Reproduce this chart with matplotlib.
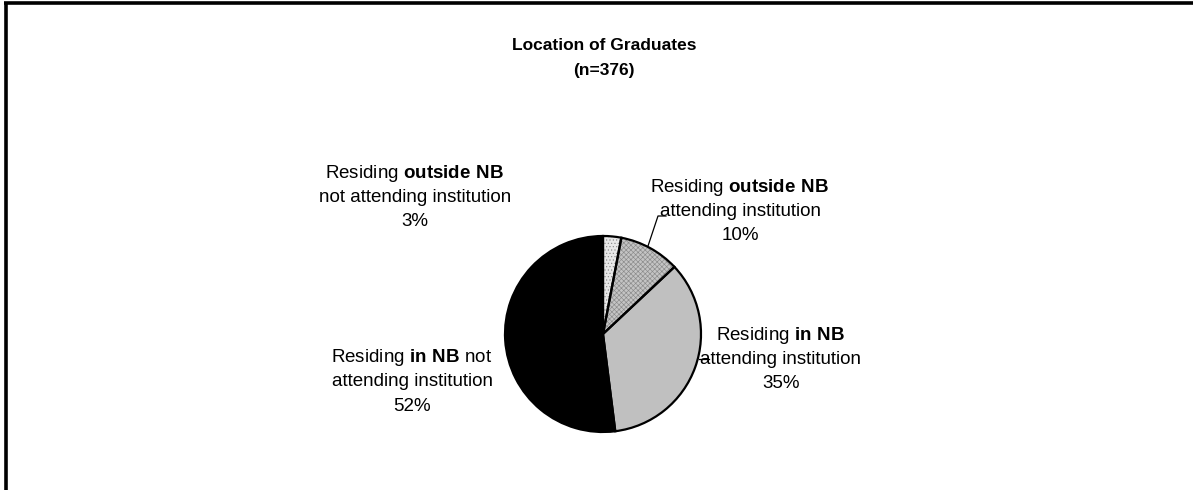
import matplotlib
matplotlib.use("Agg")
import matplotlib.pyplot as plt

plt.rcParams['font.family'] = ['Liberation Sans', 'DejaVu Sans']
plt.rcParams['mathtext.fontset'] = 'custom'
plt.rcParams['mathtext.rm'] = 'Liberation Sans'
plt.rcParams['mathtext.bf'] = 'Liberation Sans:bold'
plt.rcParams['hatch.linewidth'] = 0.45

# data (clockwise from 12 o'clock)
categories = ["outside NB, not attending", "outside NB, attending",
              "in NB, attending", "in NB, not attending"]
shares = [3, 10, 35, 52]
label_lines = [
    [r"Residing $\mathbf{outside\ NB}$", "not attending institution", "3%"],
    [r"Residing $\mathbf{outside\ NB}$", "attending institution", "10%"],
    [r"Residing $\mathbf{in\ NB}$", "attending institution", "35%"],
    [r"Residing $\mathbf{in\ NB}$ not", "attending institution", "52%"],
]
title_lines = ["Location of Graduates", "(n=376)"]

W, H = 1193, 490
fig = plt.figure(figsize=(W / 100, H / 100), dpi=100)
ax = fig.add_axes([0, 0, 1, 1])

def py(y):
    return H - y

cx, cy, r = 603, py(334), 98
fills = ['#e8e8e8', '#c4c4c4', '#c0c0c0', '#000000']
hatches = ['.....', 'xxxxxxx', None, None]

# fills with texture
w1, _ = ax.pie(shares, startangle=90, counterclock=False, center=(cx, cy),
               radius=r, colors=fills,
               wedgeprops=dict(linewidth=0, edgecolor='#8a8a8a'))
for w, h in zip(w1, hatches):
    if h:
        w.set_hatch(h)
# outlines
ax.pie(shares, startangle=90, counterclock=False, center=(cx, cy),
       radius=r, colors=['none'] * 4,
       wedgeprops=dict(linewidth=1.6, edgecolor='black'))
ax.set_xlim(0, W)
ax.set_ylim(0, H)
ax.set_aspect('auto')
ax.axis('off')

# label positions (pixel centers of first line)
label_pos = [(415, 173), (740, 188), (781, 335), (412, 358)]
step = 24
fs = 13.5
for (lx, ly), lines in zip(label_pos, label_lines):
    for i, t in enumerate(lines):
        ax.text(lx, py(ly + i * step), t, ha='center', va='center',
                fontsize=fs, color='black')

# leader lines
ax.plot([648, 658, 666], [py(246), py(216), py(216)], color='black', lw=0.9)
ax.plot([699, 709], [py(359), py(359)], color='black', lw=0.9)

# title
for i, t in enumerate(title_lines):
    ax.text(604, py(46 + i * 25), t, ha='center', va='center',
            fontsize=12.5, fontweight='bold')

# chart frame (cut off at right and bottom)
ax.plot([5.5, 5.5], [0, py(2)], color='black', lw=2.6, solid_capstyle='butt')
ax.plot([4, W], [py(3.5), py(3.5)], color='black', lw=2.6, solid_capstyle='butt')

fig.savefig("out.png", dpi=100)
